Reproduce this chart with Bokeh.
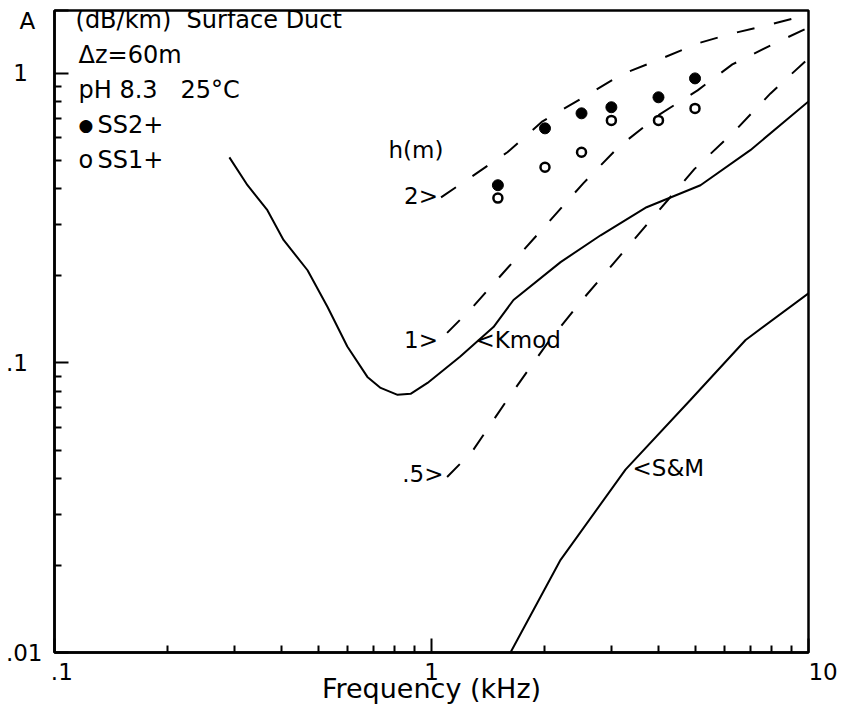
from bokeh.plotting import figure
from bokeh.models import Label, FixedTicker
from bokeh.embed import file_html
from bokeh.resources import INLINE

FONT = "DejaVu Sans"
FS = "23px"
NB = "\u00a0"

# Kmod model curve (attenuation in dB/km vs frequency in kHz)
kmod_f = [0.291, 0.325, 0.367, 0.405, 0.469, 0.530, 0.598, 0.676, 0.733, 0.813,
          0.880, 0.976, 1.19, 1.46, 1.65, 2.20, 2.81, 3.72, 5.17, 7.01, 10.0]
kmod_a = [0.513, 0.411, 0.337, 0.266, 0.209, 0.156, 0.114, 0.0895, 0.082, 0.0776,
          0.0782, 0.0853, 0.105, 0.133, 0.165, 0.223, 0.276, 0.345, 0.411, 0.543, 0.80]

# S&M curve
sm_f = [1.62, 2.2, 3.27, 4.86, 6.81, 10.0]
sm_a = [0.01, 0.0209, 0.0428, 0.0745, 0.120, 0.174]

# Duct leakage curves for layer depth h (m)
h2_f = [1.06, 1.59, 1.97, 2.53, 3.19, 4.03, 5.08, 6.28, 7.93, 10.0]
h2_a = [0.373, 0.534, 0.683, 0.827, 0.992, 1.118, 1.269, 1.374, 1.476, 1.597]

h1_f = [1.10, 1.28, 2.53, 3.13, 4.03, 5.08, 6.28, 7.93, 10.0]
h1_a = [0.127, 0.155, 0.418, 0.556, 0.722, 0.874, 1.074, 1.249, 1.441]

h05_f = [1.10, 1.28, 1.60, 2.03, 2.51, 4.98, 6.40, 7.93, 10.0]
h05_a = [0.0404, 0.0493, 0.0757, 0.117, 0.165, 0.467, 0.636, 0.853, 1.127]

# Measured attenuation
meas_f = [1.5, 2.0, 2.5, 3.0, 4.0, 5.0]
ss2_a = [0.411, 0.646, 0.728, 0.764, 0.827, 0.961]
ss1_a = [0.371, 0.474, 0.534, 0.688, 0.688, 0.757]

Y_TOP = 1.649
x_major = [0.1, 1, 10]
x_minor = [0.2, 0.3, 0.4, 0.5, 0.6, 0.7, 0.8, 0.9, 2, 3, 4, 5, 6, 7, 8, 9]
y_major = [0.01, 0.1, 1, Y_TOP]
y_minor = [0.02, 0.03, 0.04, 0.05, 0.06, 0.07, 0.08, 0.09,
           0.2, 0.3, 0.4, 0.5, 0.6, 0.7, 0.8, 0.9]
x_labels = {0.1: "\u2008\u2008.1", 1: "1", 10: "\u2007\u200710"}
# quantity symbol sits in the tick label slot at the top edge
y_labels = {0.01: ".01", 0.1: ".1\u2007", 1: "1\u2007", Y_TOP: "\nA\u2008"}

p = figure(width=842, height=706, x_axis_type="log", y_axis_type="log",
           x_range=(0.1, 10), y_range=(0.01, Y_TOP),
           output_backend="svg", toolbar_location=None,
           min_border_left=54, min_border_right=34,
           min_border_top=10, min_border_bottom=53)
p.background_fill_color = "white"
p.border_fill_color = "white"
p.grid.visible = False
p.outline_line_color = "black"
p.outline_line_width = 2.5

for ax, major, minor, labels in ((p.xaxis, x_major, x_minor, x_labels),
                                 (p.yaxis, y_major, y_minor, y_labels)):
    ax.ticker = FixedTicker(ticks=major, minor_ticks=minor)
    ax.major_label_overrides = labels
    ax.axis_line_width = 2.5
    ax.major_tick_in = 14
    ax.major_tick_out = 0
    ax.minor_tick_in = 7
    ax.minor_tick_out = 0
    ax.major_tick_line_width = 2
    ax.minor_tick_line_width = 2
    ax.major_label_text_font = FONT
    ax.major_label_text_font_size = FS
    ax.major_label_text_color = "black"

p.yaxis.major_label_text_line_height = 0.3
p.xaxis.major_label_standoff = 6
p.yaxis.major_label_standoff = 12
p.xaxis.axis_label = "Frequency (kHz)"
p.xaxis.axis_label_text_font = FONT
p.xaxis.axis_label_text_font_size = "27px"
p.xaxis.axis_label_text_font_style = "normal"
p.xaxis.axis_label_text_color = "black"
p.xaxis.axis_label_standoff = -15

line_kw = dict(line_color="black", line_width=2)
p.line(kmod_f, kmod_a, **line_kw)
p.line(sm_f, sm_a, **line_kw)
for f, a in ((h2_f, h2_a), (h1_f, h1_a), (h05_f, h05_a)):
    p.line(f, a, line_dash="18 20", **line_kw)

p.scatter(meas_f, ss2_a, size=11, marker="circle",
          fill_color="black", line_color="black")
p.scatter(meas_f, ss1_a, size=9, marker="circle",
          fill_color="white", line_color="black", line_width=2.5)


def label(x, y, text, align="left", size=FS):
    p.add_layout(Label(x=x, y=y, text=text, text_font=FONT, text_font_size=size,
                       text_align=align, text_baseline="middle",
                       text_color="black"))


HS = "24px"
label(0.1137, 1.523, "(dB/km)" + NB * 2 + "Surface Duct", size=HS)
label(0.1158, 1.154, "\u0394z=60m", size=HS)
label(0.1158, 0.874, "pH 8.3" + NB * 3 + "25\u00b0C", size=HS)
label(0.1158, 0.662, "\u25cf", size="17px")
label(0.130, 0.662, "SS2+", size=HS)
label(0.1158, 0.501, "o", size=HS)
label(0.130, 0.501, "SS1+", size=HS)

label(0.769, 0.5426, "h(m)")
label(1.04, 0.3766, "2>", "right")
label(1.04, 0.12, "1>", "right")
label(1.076, 0.0414, ".5>", "right")
label(1.308, 0.12, "<Kmod")
label(3.414, 0.0434, "<S&M")

open("out.html", "w").write(file_html(p, INLINE))
